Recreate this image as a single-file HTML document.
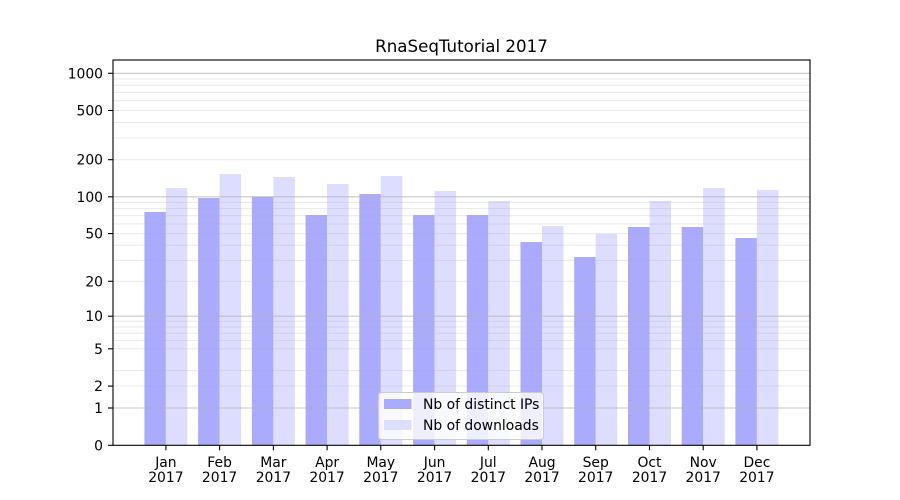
<!DOCTYPE html>
<html><head><meta charset="utf-8"><style>
html,body{margin:0;padding:0;background:#fff;}
svg{display:block;}
text{font-family:"DejaVu Sans","Liberation Sans",sans-serif;fill:#000;}
</style></head><body>
<svg width="900" height="500" viewBox="0 0 900 500" xmlns="http://www.w3.org/2000/svg">
<rect x="0" y="0" width="900" height="500" fill="#fff"/>
<!-- bars IPs -->
<g fill="#aaaaff">
<rect x="144.4" y="212" width="21.5" height="233"/>
<rect x="198.1" y="198" width="21.5" height="247"/>
<rect x="251.9" y="196.7" width="21.5" height="248.3"/>
<rect x="305.6" y="215" width="21.5" height="230"/>
<rect x="359.3" y="194" width="21.5" height="251"/>
<rect x="413.1" y="215" width="21.5" height="230"/>
<rect x="466.8" y="215" width="21.5" height="230"/>
<rect x="520.5" y="242" width="21.5" height="203"/>
<rect x="574.2" y="257" width="21.5" height="188"/>
<rect x="628.0" y="227" width="21.5" height="218"/>
<rect x="681.7" y="227" width="21.5" height="218"/>
<rect x="735.4" y="238" width="21.5" height="207"/>
</g>
<g fill="#ddddff">
<rect x="165.9" y="188" width="21.5" height="257"/>
<rect x="219.6" y="174" width="21.5" height="271"/>
<rect x="273.4" y="177" width="21.5" height="268"/>
<rect x="327.1" y="184" width="21.5" height="261"/>
<rect x="380.8" y="176" width="21.5" height="269"/>
<rect x="434.6" y="191" width="21.5" height="254"/>
<rect x="488.3" y="201" width="21.5" height="244"/>
<rect x="542.0" y="226" width="21.5" height="219"/>
<rect x="595.7" y="234" width="21.5" height="211"/>
<rect x="649.5" y="201" width="21.5" height="244"/>
<rect x="703.2" y="188" width="21.5" height="257"/>
<rect x="756.9" y="190" width="21.5" height="255"/>
</g>
<!-- minor grid -->
<g stroke="#b0b0b0" stroke-opacity="0.25" stroke-width="1.1">
<line x1="113" x2="810" y1="386.1" y2="386.1"/>
<line x1="113" x2="810" y1="370.6" y2="370.6"/>
<line x1="113" x2="810" y1="348.8" y2="348.8"/>
<line x1="113" x2="810" y1="340.5" y2="340.5"/>
<line x1="113" x2="810" y1="333.3" y2="333.3"/>
<line x1="113" x2="810" y1="327.0" y2="327.0"/>
<line x1="113" x2="810" y1="321.3" y2="321.3"/>
<line x1="113" x2="810" y1="281.3" y2="281.3"/>
<line x1="113" x2="810" y1="260.4" y2="260.4"/>
<line x1="113" x2="810" y1="245.3" y2="245.3"/>
<line x1="113" x2="810" y1="233.6" y2="233.6"/>
<line x1="113" x2="810" y1="223.9" y2="223.9"/>
<line x1="113" x2="810" y1="215.7" y2="215.7"/>
<line x1="113" x2="810" y1="208.6" y2="208.6"/>
<line x1="113" x2="810" y1="202.4" y2="202.4"/>
<line x1="113" x2="810" y1="159.7" y2="159.7"/>
<line x1="113" x2="810" y1="138.0" y2="138.0"/>
<line x1="113" x2="810" y1="122.5" y2="122.5"/>
<line x1="113" x2="810" y1="110.5" y2="110.5"/>
<line x1="113" x2="810" y1="100.7" y2="100.7"/>
<line x1="113" x2="810" y1="92.4" y2="92.4"/>
<line x1="113" x2="810" y1="85.3" y2="85.3"/>
<line x1="113" x2="810" y1="78.9" y2="78.9"/>
</g>
<!-- major grid -->
<g stroke="#b0b0b0" stroke-opacity="0.7" stroke-width="1.1">
<line x1="113" x2="810" y1="408.0" y2="408.0"/>
<line x1="113" x2="810" y1="316.2" y2="316.2"/>
<line x1="113" x2="810" y1="196.8" y2="196.8"/>
<line x1="113" x2="810" y1="73.3" y2="73.3"/>
</g>
<!-- axes frame -->
<rect x="113" y="60" width="697" height="385.3" fill="none" stroke="#000" stroke-width="1.1"/>
<!-- y ticks -->
<g stroke="#000" stroke-width="1.1">
<line x1="108" x2="113" y1="445.3" y2="445.3"/>
<line x1="108" x2="113" y1="408.0" y2="408.0"/>
<line x1="108" x2="113" y1="386.1" y2="386.1"/>
<line x1="108" x2="113" y1="348.8" y2="348.8"/>
<line x1="108" x2="113" y1="316.2" y2="316.2"/>
<line x1="108" x2="113" y1="281.3" y2="281.3"/>
<line x1="108" x2="113" y1="233.6" y2="233.6"/>
<line x1="108" x2="113" y1="196.8" y2="196.8"/>
<line x1="108" x2="113" y1="159.7" y2="159.7"/>
<line x1="108" x2="113" y1="110.5" y2="110.5"/>
<line x1="108" x2="113" y1="73.3" y2="73.3"/>
</g>
<g font-size="13.9" text-anchor="end">
<text x="103" y="450.3">0</text>
<text x="103" y="413.0">1</text>
<text x="103" y="391.1">2</text>
<text x="103" y="353.8">5</text>
<text x="103" y="321.2">10</text>
<text x="103" y="286.3">20</text>
<text x="103" y="238.6">50</text>
<text x="103" y="201.8">100</text>
<text x="103" y="164.7">200</text>
<text x="103" y="115.5">500</text>
<text x="103" y="78.3">1000</text>
</g>
<!-- x ticks -->
<g stroke="#000" stroke-width="1.1">
<line x1="165.9" x2="165.9" y1="445.3" y2="450.3"/>
<line x1="219.6" x2="219.6" y1="445.3" y2="450.3"/>
<line x1="273.4" x2="273.4" y1="445.3" y2="450.3"/>
<line x1="327.1" x2="327.1" y1="445.3" y2="450.3"/>
<line x1="380.8" x2="380.8" y1="445.3" y2="450.3"/>
<line x1="434.6" x2="434.6" y1="445.3" y2="450.3"/>
<line x1="488.3" x2="488.3" y1="445.3" y2="450.3"/>
<line x1="542.0" x2="542.0" y1="445.3" y2="450.3"/>
<line x1="595.7" x2="595.7" y1="445.3" y2="450.3"/>
<line x1="649.5" x2="649.5" y1="445.3" y2="450.3"/>
<line x1="703.2" x2="703.2" y1="445.3" y2="450.3"/>
<line x1="756.9" x2="756.9" y1="445.3" y2="450.3"/>
</g>
<g font-size="13.9" text-anchor="middle">
<text x="165.9" y="467">Jan</text><text x="165.9" y="482">2017</text>
<text x="219.6" y="467">Feb</text><text x="219.6" y="482">2017</text>
<text x="273.4" y="467">Mar</text><text x="273.4" y="482">2017</text>
<text x="327.1" y="467">Apr</text><text x="327.1" y="482">2017</text>
<text x="380.8" y="467">May</text><text x="380.8" y="482">2017</text>
<text x="434.6" y="467">Jun</text><text x="434.6" y="482">2017</text>
<text x="488.3" y="467">Jul</text><text x="488.3" y="482">2017</text>
<text x="542.0" y="467">Aug</text><text x="542.0" y="482">2017</text>
<text x="595.7" y="467">Sep</text><text x="595.7" y="482">2017</text>
<text x="649.5" y="467">Oct</text><text x="649.5" y="482">2017</text>
<text x="703.2" y="467">Nov</text><text x="703.2" y="482">2017</text>
<text x="756.9" y="467">Dec</text><text x="756.9" y="482">2017</text>
</g>
<!-- legend -->
<rect x="378.5" y="392.5" width="165" height="47" rx="3" ry="3" fill="#fff" fill-opacity="0.8" stroke="#cccccc" stroke-width="1"/>
<rect x="384" y="399" width="27.5" height="10" fill="#aaaaff"/>
<rect x="384" y="420" width="27.5" height="10" fill="#ddddff"/>
<text x="423" y="409" font-size="13.9">Nb of distinct IPs</text>
<text x="423" y="430" font-size="13.9">Nb of downloads</text>
<!-- title -->
<text x="461.5" y="52" font-size="16.67" text-anchor="middle">RnaSeqTutorial 2017</text>
</svg>
</body></html>
